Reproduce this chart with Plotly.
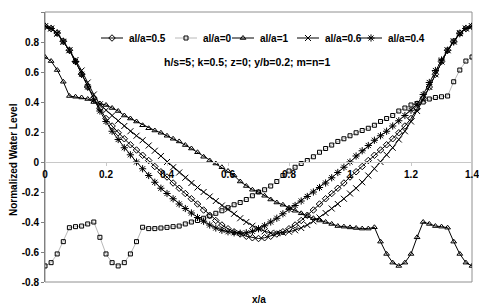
import plotly.graph_objects as go

X = [0.00, 0.02, 0.04, 0.06, 0.08, 0.10, 0.12, 0.14, 0.16, 0.18,
     0.20, 0.22, 0.24, 0.26, 0.28, 0.30, 0.32, 0.34, 0.36, 0.38,
     0.40, 0.42, 0.44, 0.46, 0.48, 0.50, 0.52, 0.54, 0.56, 0.58,
     0.60, 0.62, 0.64, 0.66, 0.68, 0.70, 0.72, 0.74, 0.76, 0.78,
     0.80, 0.82, 0.84, 0.86, 0.88, 0.90, 0.92, 0.94, 0.96, 0.98,
     1.00, 1.02, 1.04, 1.06, 1.08, 1.10, 1.12, 1.14, 1.16, 1.18,
     1.20, 1.22, 1.24, 1.26, 1.28, 1.30, 1.32, 1.34, 1.36, 1.38, 1.40]

AL05 = [0.905, 0.89, 0.86, 0.805, 0.745, 0.67, 0.585, 0.50, 0.425, 0.355,
        0.29, 0.24, 0.195, 0.155, 0.115, 0.08, 0.045, 0.01, -0.03, -0.065,
        -0.10, -0.14, -0.175, -0.21, -0.245, -0.28, -0.32, -0.355, -0.39, -0.42,
        -0.445, -0.465, -0.48, -0.495, -0.505, -0.51, -0.505, -0.495, -0.48, -0.465,
        -0.445, -0.42, -0.39, -0.355, -0.32, -0.28, -0.245, -0.21, -0.175, -0.14,
        -0.10, -0.065, -0.03, 0.01, 0.045, 0.08, 0.115, 0.155, 0.195, 0.24,
        0.29, 0.355, 0.425, 0.50, 0.585, 0.67, 0.745, 0.805, 0.86, 0.89, 0.905]

AL0 = [-0.693, -0.671, -0.613, -0.531, -0.438, -0.431, -0.427, -0.413, -0.40, -0.502,
       -0.613, -0.671, -0.693, -0.671, -0.613, -0.531, -0.435, -0.444, -0.444, -0.44,
       -0.436, -0.431, -0.427, -0.413, -0.40, -0.39, -0.375, -0.36, -0.342, -0.325,
       -0.305, -0.285, -0.27, -0.25, -0.225, -0.20, -0.185, -0.16, -0.13, -0.09,
       -0.06, -0.035, -0.01, 0.01, 0.035, 0.065, 0.09, 0.113, 0.137, 0.155,
       0.175, 0.195, 0.21, 0.225, 0.245, 0.27, 0.29, 0.31, 0.34, 0.36,
       0.38, 0.39, 0.40, 0.42, 0.43, 0.435, 0.44, 0.535, 0.613, 0.673, 0.70]

AL1 = [0.70, 0.673, 0.613, 0.535, 0.44, 0.435, 0.43, 0.42, 0.40, 0.39,
       0.38, 0.36, 0.34, 0.31, 0.29, 0.27, 0.245, 0.225, 0.21, 0.195,
       0.175, 0.155, 0.137, 0.113, 0.09, 0.065, 0.035, 0.01, -0.01, -0.035,
       -0.06, -0.09, -0.13, -0.16, -0.185, -0.20, -0.225, -0.25, -0.27, -0.285,
       -0.305, -0.325, -0.342, -0.36, -0.375, -0.39, -0.40, -0.413, -0.427, -0.431,
       -0.436, -0.44, -0.444, -0.444, -0.435, -0.531, -0.613, -0.671, -0.693, -0.671,
       -0.613, -0.502, -0.40, -0.413, -0.427, -0.431, -0.438, -0.531, -0.613, -0.671, -0.693]

AL06 = [0.905, 0.89, 0.855, 0.80, 0.745, 0.68, 0.61, 0.53, 0.45, 0.385,
        0.345, 0.31, 0.275, 0.24, 0.205, 0.175, 0.145, 0.11, 0.075, 0.04,
        0.0, -0.035, -0.07, -0.105, -0.14, -0.17, -0.20, -0.23, -0.26, -0.29,
        -0.315, -0.345, -0.375, -0.40, -0.425, -0.445, -0.462, -0.472, -0.475, -0.472,
        -0.465, -0.455, -0.44, -0.42, -0.395, -0.37, -0.34, -0.31, -0.28, -0.245,
        -0.21, -0.175, -0.135, -0.09, -0.045, 0.0, 0.048, 0.095, 0.15, 0.205,
        0.27, 0.34, 0.415, 0.50, 0.585, 0.67, 0.745, 0.805, 0.86, 0.89, 0.905]

AL04 = [0.905, 0.89, 0.86, 0.805, 0.745, 0.67, 0.585, 0.50, 0.415, 0.34,
        0.27, 0.205, 0.15, 0.095, 0.048, 0.0, -0.045, -0.09, -0.135, -0.175,
        -0.21, -0.245, -0.28, -0.31, -0.34, -0.37, -0.395, -0.42, -0.44, -0.455,
        -0.465, -0.472, -0.475, -0.472, -0.462, -0.445, -0.425, -0.40, -0.375, -0.345,
        -0.315, -0.29, -0.26, -0.23, -0.20, -0.17, -0.14, -0.105, -0.07, -0.035,
        0.0, 0.04, 0.075, 0.11, 0.145, 0.175, 0.205, 0.24, 0.275, 0.31,
        0.345, 0.385, 0.45, 0.53, 0.61, 0.68, 0.745, 0.80, 0.855, 0.89, 0.905]

SERIES_NAMES = ["al/a=0.5", "al/a=0", "al/a=1", "al/a=0.6", "al/a=0.4"]

Y_TICKS = [1, 0.8, 0.6, 0.4, 0.2, 0, -0.2, -0.4, -0.6, -0.8]
Y_TICK_TEXT = ["1", "0.8", "0.6", "0.4", "0.2", "0", "-0.2", "-0.4", "-0.6", "-0.8"]
X_TICKS = [0, 0.2, 0.4, 0.6, 0.8, 1.0, 1.2, 1.4]
X_TICK_TEXT = ["0", "0.2", "0.4", "0.6", "0.8", "1", "1.2", "1.4"]

FONT = "Liberation Sans, Arial, sans-serif"

# page geometry (pixels in the 487x307 window); the page body adds an 8px offset
PAGE_W, PAGE_H, OFF = 487, 307, 8
BOX_L, BOX_R, BOX_T, BOX_B = 45, 472, 12, 282   # plot box in page pixels
W, H = PAGE_W - OFF, PAGE_H - OFF
ML, MT = BOX_L - OFF, BOX_T - OFF
MR, MB = W - (BOX_R - OFF), H - (BOX_B - OFF)
PW, PH = BOX_R - BOX_L, BOX_B - BOX_T

def px_x(px):
    return (px - BOX_L) / PW

def px_y(py):
    return (BOX_B - py) / PH

styles = [
    dict(symbol="diamond-open", size=5, line_color="black"),
    dict(symbol="square-open", size=4, line_color="#b8b8b8"),
    dict(symbol="triangle-up-open", size=5, line_color="black"),
    dict(symbol="x-thin-open", size=6, line_color="black"),
    dict(symbol="asterisk-open", size=6, line_color="black"),
]
data = [AL05, AL0, AL1, AL06, AL04]

# legend layout: text start position (page px) of each entry, legend row y (page px)
LEG_TEXT_X = [127, 201, 258, 323, 386]
LEG_Y = 38

fig = go.Figure()
for name, ys, st in zip(SERIES_NAMES, data, styles):
    fig.add_trace(go.Scatter(
        x=X, y=ys, name=name, mode="lines+markers", showlegend=False,
        line=dict(color=st["line_color"], width=1),
        marker=dict(symbol=st["symbol"], size=st["size"], color="black",
                    line=dict(color="black", width=1)),
    ))

annotations = []
for name, st, tx in zip(SERIES_NAMES, styles, LEG_TEXT_X):
    x0, x1 = px_x(tx - 26), px_x(tx - 4)
    xm = (x0 + x1) / 2
    yl = px_y(LEG_Y)
    fig.add_trace(go.Scatter(
        x=[x0, xm, x1], y=[yl, yl, yl], xaxis="x2", yaxis="y2",
        mode="lines+markers", showlegend=False, hoverinfo="skip", cliponaxis=False,
        line=dict(color=st["line_color"], width=1),
        marker=dict(symbol=st["symbol"], size=st["size"], color="black",
                    opacity=[0, 1, 0], line=dict(color="black", width=1)),
    ))
    annotations.append(dict(text=name, xref="paper", yref="paper", x=px_x(tx), y=yl,
                            showarrow=False, xanchor="left", yanchor="middle",
                            font=dict(family=FONT, size=10, weight="bold")))

annotations += [
    dict(text="Normalized Water Level", xref="paper", yref="paper",
         x=px_x(13), y=px_y(160), textangle=-90, showarrow=False,
         xanchor="center", yanchor="middle",
         font=dict(family=FONT, size=10, weight="bold")),
    dict(text="x/a", xref="paper", yref="paper", x=px_x(259), y=px_y(299),
         showarrow=False, xanchor="center", yanchor="middle",
         font=dict(family=FONT, size=10, weight="bold")),
    dict(text="h/s=5; k=0.5; z=0; y/b=0.2; m=n=1", xref="paper", yref="paper",
         x=px_x(247), y=px_y(62), showarrow=False, xanchor="center", yanchor="middle",
         font=dict(family=FONT, size=10.5, weight="bold")),
]

fig.update_layout(
    width=W, height=H,
    margin=dict(l=ML, r=MR, t=MT, b=MB, autoexpand=False),
    paper_bgcolor="white", plot_bgcolor="white",
    font=dict(family=FONT, size=10, color="black", weight="bold"),
    showlegend=False,
    xaxis=dict(range=[0, 1.4], tickvals=X_TICKS, ticktext=X_TICK_TEXT,
               anchor="free", position=0.8 / 1.8,
               showline=True, linecolor="#c8c8c8", linewidth=1,
               ticks="outside", ticklen=3, tickcolor="#c8c8c8",
               showgrid=False, zeroline=False, automargin=False,
               tickfont=dict(family=FONT, size=10, weight="bold")),
    yaxis=dict(range=[-0.8, 1], tickvals=Y_TICKS, ticktext=Y_TICK_TEXT,
               showline=True, linecolor="#808080", linewidth=1,
               ticks="outside", ticklen=3, tickcolor="#808080",
               showgrid=False, zeroline=False, automargin=False,
               tickfont=dict(family=FONT, size=10, weight="bold")),
    xaxis2=dict(range=[0, 1], overlaying="x", visible=False, fixedrange=True),
    yaxis2=dict(range=[0, 1], overlaying="y", visible=False, fixedrange=True),
    shapes=[dict(type="rect", xref="paper", yref="paper", x0=0, x1=1, y0=0, y1=1,
                 line=dict(color="#909090", width=1), layer="below")],
    annotations=annotations,
)

fig.write_html("out.html")
